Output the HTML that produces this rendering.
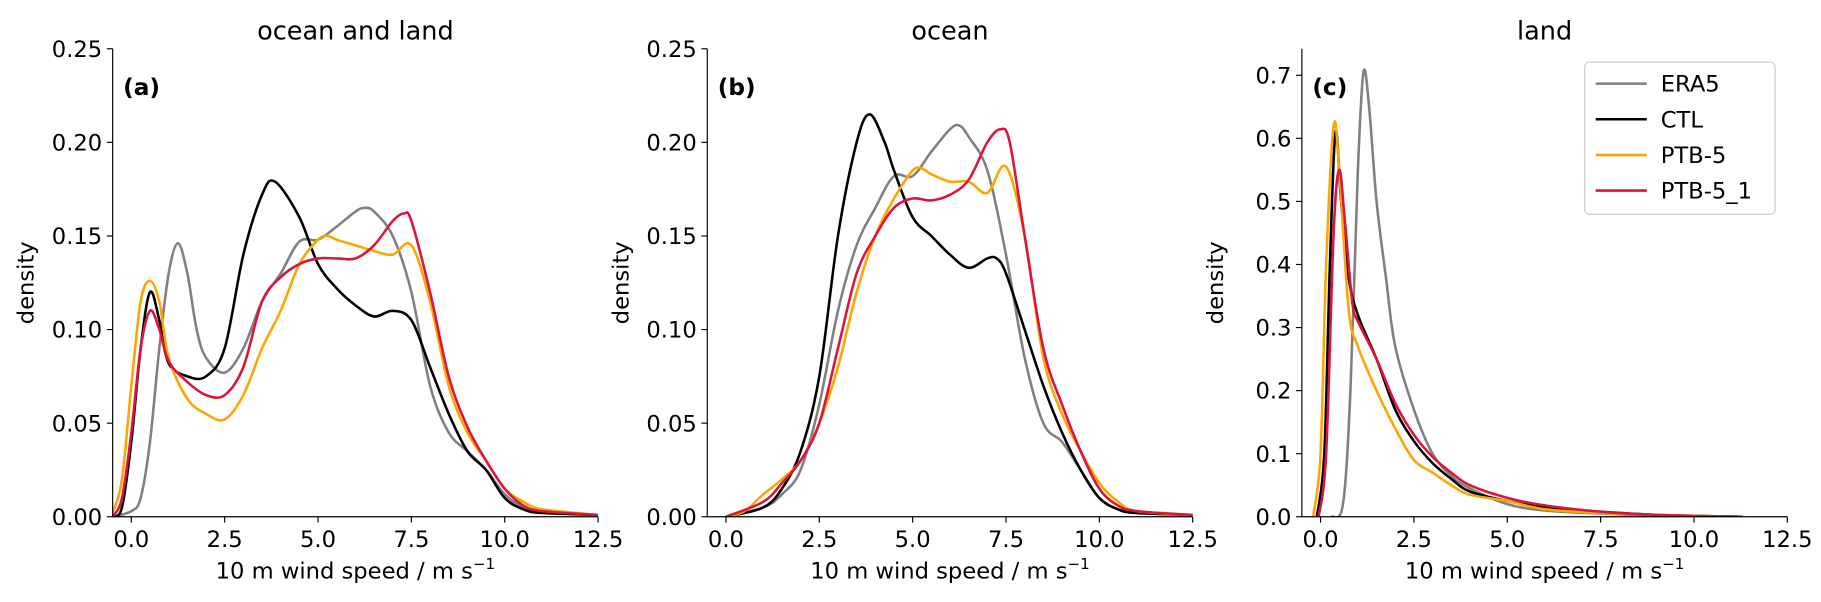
<!DOCTYPE html>
<html><head><meta charset="utf-8">
<style>
body{margin:0;background:#fff;}
svg{display:block;font-family:"DejaVu Sans","Liberation Sans",sans-serif;}
</style></head>
<body>
<svg id="chart" width="1821" height="602" viewBox="0 0 1568 518.4" preserveAspectRatio="none" xmlns="http://www.w3.org/2000/svg"></svg>
<script>
// ---------- data ----------
const seriesNames = ["ERA5","CTL","PTB-5","PTB-5_1"];
const seriesColors = ["#808080","#000000","#FFA500","#DC143C"];
const panelTitles = ["ocean and land","ocean","land"];
const panelLetters = ["(a)","(b)","(c)"];
const xTicks = [0,2.5,5,7.5,10,12.5];
const xTickLabels = ["0.0","2.5","5.0","7.5","10.0","12.5"];
const yTicksAB = [0,0.05,0.10,0.15,0.20,0.25];
const yTickLabelsAB = ["0.00","0.05","0.10","0.15","0.20","0.25"];
const yTicksC = [0,0.1,0.2,0.3,0.4,0.5,0.6,0.7];
const yTickLabelsC = ["0.0","0.1","0.2","0.3","0.4","0.5","0.6","0.7"];

// panel a
const aEra5X=[-0.5,0,0.25,0.5,0.75,1.0,1.25,1.5,1.75,2.0,2.5,3.0,3.5,4.0,4.5,5.0,5.5,6.0,6.25,6.5,7.0,7.5,8.0,8.5,9.0,9.5,10.0,10.5,11,12.5];
const aEra5Y=[0,0.003,0.01,0.04,0.09,0.13,0.146,0.13,0.10,0.085,0.077,0.09,0.115,0.13,0.147,0.148,0.155,0.163,0.165,0.163,0.15,0.12,0.07,0.045,0.035,0.025,0.012,0.005,0.003,0.001];
const aCtlX=[-0.5,-0.25,0,0.25,0.5,0.75,1.0,1.5,2.0,2.5,3.0,3.5,3.85,4.5,5.0,5.5,6.0,6.5,7.0,7.5,8.0,8.5,9.0,9.5,10.0,10.5,11,12.5];
const aCtlY=[0,0.005,0.04,0.09,0.12,0.105,0.082,0.075,0.075,0.09,0.14,0.172,0.179,0.16,0.135,0.122,0.113,0.107,0.11,0.105,0.08,0.055,0.035,0.025,0.01,0.004,0.002,0.001];
const aPtbX=[-0.5,-0.25,0,0.25,0.5,0.75,1.0,1.5,2.0,2.5,3.0,3.5,4.0,4.5,5.0,5.25,5.5,6.0,6.5,7.0,7.5,8.0,8.5,9.0,9.5,10.0,10.5,11,12.5];
const aPtbY=[0.002,0.02,0.07,0.115,0.126,0.115,0.085,0.063,0.055,0.052,0.065,0.09,0.11,0.135,0.148,0.15,0.148,0.145,0.142,0.14,0.145,0.115,0.07,0.045,0.03,0.015,0.008,0.004,0.001];
const aPtb1X=[-0.5,-0.25,0,0.25,0.5,0.75,1.0,1.5,2.0,2.5,3.0,3.5,4.0,4.5,5.0,5.5,6.0,6.5,7.0,7.3,7.5,8.0,8.5,9.0,9.5,10.0,10.5,11,12.5];
const aPtb1Y=[0,0.01,0.045,0.09,0.11,0.1,0.083,0.072,0.065,0.065,0.08,0.115,0.128,0.135,0.138,0.138,0.138,0.145,0.158,0.162,0.158,0.12,0.075,0.048,0.03,0.015,0.006,0.003,0.001];
// panel b
const bEra5X=[0,1.0,1.5,2.0,2.5,3.0,3.5,4.0,4.5,5.0,5.5,6.0,6.25,6.5,7.0,7.5,8.0,8.5,9.0,9.5,10.0,10.5,11,12.5];
const bEra5Y=[0,0.005,0.012,0.025,0.06,0.11,0.145,0.165,0.182,0.182,0.195,0.207,0.209,0.203,0.185,0.14,0.085,0.05,0.04,0.025,0.01,0.004,0.002,0.001];
const bCtlX=[0,1.0,1.5,2.0,2.5,3.0,3.5,3.85,4.25,4.5,5.0,5.5,6.0,6.5,7.0,7.25,7.5,8.0,8.5,9.0,9.5,10.0,10.5,11,12.5];
const bCtlY=[0,0.005,0.015,0.035,0.075,0.15,0.2,0.215,0.2,0.185,0.16,0.15,0.14,0.133,0.138,0.138,0.13,0.1,0.07,0.045,0.025,0.01,0.004,0.002,0.001];
const bPtbX=[0,0.5,1.0,1.5,2.0,2.5,3.0,3.5,4.0,4.5,5.0,5.25,5.5,6.0,6.5,7.0,7.5,8.0,8.5,9.0,9.5,10.0,10.5,11,12.5];
const bPtbY=[0,0.003,0.012,0.02,0.03,0.05,0.08,0.12,0.15,0.17,0.185,0.186,0.183,0.179,0.179,0.173,0.187,0.15,0.085,0.055,0.035,0.018,0.008,0.003,0.001];
const bPtb1X=[0,1.0,1.5,2.0,2.5,3.0,3.5,4.0,4.5,5.0,5.5,6.0,6.5,7.0,7.35,7.6,8.0,8.5,9.0,9.5,10.0,10.5,11,12.5];
const bPtb1Y=[0,0.008,0.018,0.03,0.05,0.09,0.13,0.15,0.165,0.17,0.169,0.172,0.18,0.2,0.207,0.2,0.15,0.09,0.06,0.035,0.015,0.006,0.003,0.001];
// panel c
const cEra5X=[0.3,0.6,0.8,1.0,1.15,1.3,1.5,1.75,2.0,2.5,3.0,3.5,4.0,5.0,6.0,7.5,9,11.3];
const cEra5Y=[0,0.02,0.2,0.55,0.705,0.65,0.5,0.38,0.27,0.17,0.1,0.065,0.045,0.02,0.01,0.005,0.002,0];
const cCtlX=[-0.1,0.1,0.25,0.4,0.55,0.75,1.0,1.5,2.0,2.5,3.0,3.5,4.0,5.0,6.0,7.5,9,11.3];
const cCtlY=[0,0.1,0.4,0.61,0.5,0.38,0.32,0.25,0.17,0.12,0.085,0.06,0.04,0.025,0.015,0.008,0.003,0];
const cPtbX=[-0.2,0,0.15,0.35,0.5,0.75,1.0,1.5,2.0,2.5,3.0,3.5,4.0,5.0,6.0,7.5,9,11.3];
const cPtbY=[0,0.1,0.4,0.62,0.55,0.33,0.27,0.2,0.14,0.09,0.07,0.05,0.035,0.025,0.012,0.006,0.003,0];
const cPtb1X=[-0.05,0.15,0.35,0.5,0.65,0.85,1.0,1.5,2.0,2.5,3.0,3.5,4.0,5.0,6.0,7.5,9,11.3];
const cPtb1Y=[0,0.1,0.45,0.55,0.47,0.34,0.31,0.25,0.18,0.13,0.095,0.07,0.05,0.03,0.018,0.008,0.003,0];

const panelSeries = [
  [[aEra5X,aEra5Y],[aCtlX,aCtlY],[aPtbX,aPtbY],[aPtb1X,aPtb1Y]],
  [[bEra5X,bEra5Y],[bCtlX,bCtlY],[bPtbX,bPtbY],[bPtb1X,bPtb1Y]],
  [[cEra5X,cEra5Y],[cCtlX,cCtlY],[cPtbX,cPtbY],[cPtb1X,cPtb1Y]]
];

// ---------- drawing ----------
const NS="http://www.w3.org/2000/svg";
const svg=document.getElementById('chart');
function mk(tag,attrs,parent){const e=document.createElementNS(NS,tag);for(const k in attrs)e.setAttribute(k,attrs[k]);(parent||svg).appendChild(e);return e;}

const panels=[
  {left:97,right:515,top:42,bottom:445,ymax:0.25,yt:yTicksAB,yl:yTickLabelsAB},
  {left:609,right:1027,top:42,bottom:445,ymax:0.25,yt:yTicksAB,yl:yTickLabelsAB},
  {left:1121,right:1539,top:42,bottom:445,ymax:0.742,yt:yTicksC,yl:yTickLabelsC}
];
const xmin=-0.5,xmax=12.5;

function smoothPath(pts){
  let d="M"+pts[0][0].toFixed(2)+","+pts[0][1].toFixed(2);
  for(let i=0;i<pts.length-1;i++){
    const p0=pts[Math.max(i-1,0)],p1=pts[i],p2=pts[i+1],p3=pts[Math.min(i+2,pts.length-1)];
    const c1=[p1[0]+(p2[0]-p0[0])/6,p1[1]+(p2[1]-p0[1])/6];
    const c2=[p2[0]-(p3[0]-p1[0])/6,p2[1]-(p3[1]-p1[1])/6];
    d+=` C${c1[0].toFixed(2)},${c1[1].toFixed(2)} ${c2[0].toFixed(2)},${c2[1].toFixed(2)} ${p2[0].toFixed(2)},${p2[1].toFixed(2)}`;
  }
  return d;
}

panels.forEach((P,pi)=>{
  const sx=v=>P.left+(v-xmin)/(xmax-xmin)*(P.right-P.left);
  const sy=v=>P.bottom-v/P.ymax*(P.bottom-P.top);
  const g=mk('g',{});
  
  
  const cid='clip'+pi;
  const cp=mk('clipPath',{id:cid},g);
  mk('rect',{x:P.left,y:P.top,width:P.right-P.left,height:P.bottom-P.top},cp);
  panelSeries[pi].forEach((s,si)=>{
    const pts=s[0].map((x,i)=>[sx(x),sy(s[1][i])]);
    const p=mk('path',{d:smoothPath(pts),fill:'none',stroke:seriesColors[si],'stroke-width':2.2,'clip-path':`url(#${cid})`,'stroke-linejoin':'round'},g);
    
    
  });
  const ax=mk('line',{x1:P.left,y1:P.bottom,x2:P.right,y2:P.bottom,stroke:'#000','stroke-width':1},g);
  
  const ay=mk('line',{x1:P.left,y1:P.top,x2:P.left,y2:P.bottom,stroke:'#000','stroke-width':1},g);
  
  xTicks.forEach((t,i)=>{
    mk('line',{x1:sx(t),y1:P.bottom,x2:sx(t),y2:P.bottom+5,stroke:'#000'},g);
    const tx=mk('text',{x:sx(t),y:P.bottom+26,'font-size':19.5,'text-anchor':'middle'},g);
    tx.textContent=xTickLabels[i];
    
  });
  P.yt.forEach((t,i)=>{
    mk('line',{x1:P.left-5,y1:sy(t),x2:P.left,y2:sy(t),stroke:'#000'},g);
    const ty=mk('text',{x:P.left-9,y:sy(t)+7,'font-size':19.5,'text-anchor':'end'},g);
    ty.textContent=P.yl[i];
    
  });
  const xl=mk('text',{x:(P.left+P.right)/2,y:498,'font-size':19.5,'text-anchor':'middle'},g);
  xl.innerHTML='10 m wind speed / m s<tspan dy="-8" font-size="13">−1</tspan>';
  
  const yl=mk('text',{x:0,y:0,'font-size':19.5,'text-anchor':'middle',transform:`translate(${P.left-68},${(P.top+P.bottom)/2}) rotate(-90)`},g);
  yl.textContent='density';
  
  const ti=mk('text',{x:(P.left+P.right)/2,y:34,'font-size':22,'text-anchor':'middle'},g);
  ti.textContent=panelTitles[pi];
  
  const le=mk('text',{x:P.left+9,y:82,'font-size':20,'font-weight':'bold'},g);
  le.textContent=panelLetters[pi];
  
});

const lg=mk('g',{});


mk('rect',{x:1364.5,y:53.5,width:164,height:131,rx:4,fill:'#fff',stroke:'#ccc'},lg);
seriesNames.forEach((n,i)=>{
  const y=72+i*30.7;
  const e=mk('g',{},lg);
  
  
  mk('line',{x1:1374,y1:y,x2:1418,y2:y,stroke:seriesColors[i],'stroke-width':2.2},e);
  const t=mk('text',{x:1430,y:y+7,'font-size':19.5},e);
  t.textContent=n;
});
</script>
</body></html>
